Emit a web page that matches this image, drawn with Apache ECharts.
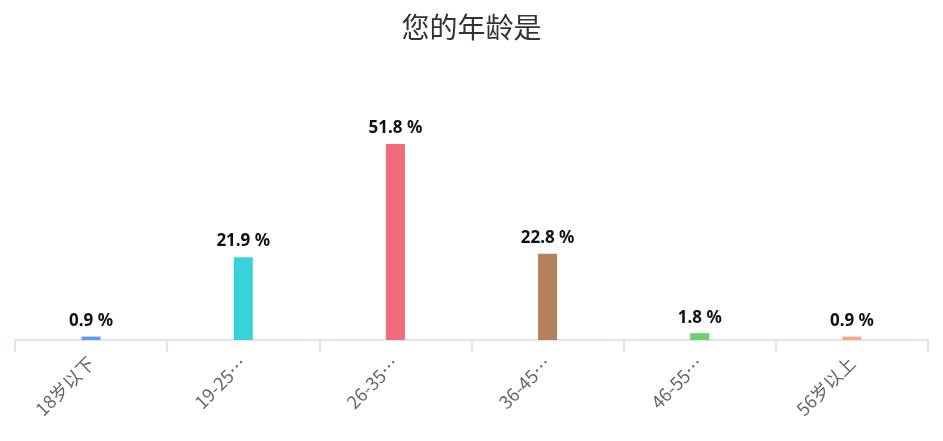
<!DOCTYPE html>
<html>
<head>
<meta charset="utf-8">
<script src="https://cdn.jsdelivr.net/npm/echarts@6/dist/echarts.min.js"></script>
<style>
  html, body { margin: 0; padding: 0; background: #fff; }
  #main { width: 943px; height: 441px; }
</style>
</head>
<body>
<div id="main"></div>
<script>
// 年龄分布
const categories = ['18岁以下', '19-25岁', '26-35岁', '36-45岁', '46-55岁', '56岁以上'];
const percents = [0.9, 21.9, 51.8, 22.8, 1.8, 0.9];
const barColors = ['#5b9cf7', '#38d3da', '#f26b79', '#b5805c', '#6bd06e', '#fba87a'];

let chart = echarts.init(document.getElementById('main'));

let option = {
    title: {
        text: '您的年龄是',
        left: 'center',
        top: 8,
        textStyle: {
            fontSize: 28,
            fontWeight: 'normal',
            color: '#333',
            fontFamily: 'Noto Sans CJK SC'
        }
    },
    grid: {left: 15, right: 15, top: 113, bottom: 101},
    xAxis: {
        type: 'category',
        data: categories,
        axisLine: {lineStyle: {color: '#d3dcf0', width: 1.5}},
        axisTick: {show: true, length: 12, lineStyle: {color: '#d3dcf0', width: 1.5}},
        axisLabel: {
            rotate: 45,
            interval: 0,
            margin: 20,
            color: '#666',
            fontSize: 18,
            fontFamily: 'Noto Sans CJK SC',
            formatter: function (v) {
                return v.length > 5 ? v.slice(0, 5) + '…' : v;
            }
        }
    },
    yAxis: {
        type: 'value',
        min: 0,
        max: 60,
        show: false
    },
    series: [{
        type: 'bar',
        barWidth: 19,
        data: percents.map(function (v, i) {
            return {value: v, itemStyle: {color: barColors[i]}};
        }),
        label: {
            show: true,
            position: 'top',
            distance: 7,
            color: '#111',
            fontSize: 17,
            fontWeight: 'bold',
            fontFamily: 'Noto Sans',
            formatter: '{c} %'
        }
    }]
};

chart.setOption(option);
</script>
</body>
</html>
